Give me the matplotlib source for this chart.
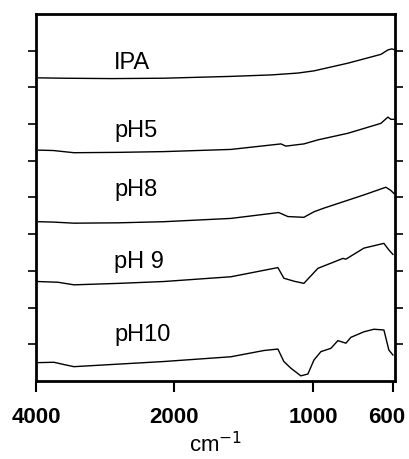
import numpy as np
import matplotlib.pyplot as plt
import matplotlib.transforms as mtransforms


# wavenumbers (cm-1) and stacked trace heights
ipa_wn = [3960, 3600, 2900, 2150, 1590, 1300, 1110, 995, 825, 660, 625, 605, 595]
ipa_y = [8.26, 8.25, 8.24, 8.25, 8.30, 8.34, 8.39, 8.45, 8.66, 8.90, 9.02, 9.05, 9.03]

ph5_wn = [3960, 3750, 3450, 2800, 2150, 1590, 1230, 1195, 1065, 975, 825, 660, 625, 610, 595]
ph5_y = [6.29, 6.28, 6.22, 6.23, 6.25, 6.31, 6.46, 6.40, 6.46, 6.57, 6.75, 7.02, 7.19, 7.13, 7.13]

ph8_wn = [3960, 3750, 3450, 2800, 2150, 1590, 1246, 1180, 1065, 995, 945, 845, 745, 635, 610, 595]
ph8_y = [4.34, 4.33, 4.30, 4.31, 4.34, 4.43, 4.59, 4.48, 4.46, 4.61, 4.71, 4.89, 5.07, 5.28, 5.19, 5.11]

ph9_wn = [3970, 3680, 3450, 2800, 2150, 1590, 1252, 1209, 1137, 1065, 975, 910, 850, 835,
          745, 645, 620, 600]
ph9_y = [2.71, 2.69, 2.62, 2.66, 2.71, 2.84, 3.09, 2.80, 2.72, 2.66, 3.07, 3.21, 3.34, 3.32,
         3.62, 3.75, 3.57, 3.45]

ph10_wn = [3970, 3740, 3600, 3450, 2800, 2150, 1590, 1353, 1252, 1209, 1159, 1087, 1036,
           995, 960, 910, 875, 835, 810, 745, 695, 645, 620, 600]
ph10_y = [0.50, 0.51, 0.45, 0.39, 0.46, 0.53, 0.66, 0.83, 0.87, 0.53, 0.35, 0.14, 0.19,
          0.57, 0.80, 0.89, 1.10, 1.03, 1.19, 1.34, 1.41, 1.39, 0.84, 0.71]

LABELS = ["IPA", "pH5", "pH8", "pH 9", "pH10"]
LABEL_Y = [8.53, 6.68, 5.07, 3.11, 1.12]   # baselines
LABEL_WN = 2870

X_TICKS = [4000, 2000, 1000, 600]

# the instrument changes its chart scale at 2000 and 1000 cm-1
SCALE_WN = [500, 600, 1000, 2000, 4000, 4500]
SCALE_POS = [-20, 0, 80, 219, 357, 391.5]


def forward(wn):
    return np.interp(wn, SCALE_WN, SCALE_POS)


def inverse(pos):
    return np.interp(pos, SCALE_POS, SCALE_WN)


def main() -> None:
    plt.rcParams["font.family"] = ["Liberation Sans", "DejaVu Sans"]

    fig = plt.figure(figsize=(4.09, 4.6), dpi=100)
    ax = fig.add_axes([0.088, 0.1696, 0.8775, 0.7978])

    spectra = [(ipa_wn, ipa_y), (ph5_wn, ph5_y), (ph8_wn, ph8_y),
               (ph9_wn, ph9_y), (ph10_wn, ph10_y)]
    for wn, y in spectra:
        ax.plot(wn, y, color="black", lw=1.0)

    for label, ly in zip(LABELS, LABEL_Y):
        ax.text(LABEL_WN, ly, label, fontsize=17, ha="left", va="baseline")

    ax.set_xscale("function", functions=(forward, inverse))
    ax.set_xlim(4000, 590)
    ax.set_ylim(0, 10)

    ax.set_xticks(X_TICKS)
    ax.set_xticklabels([str(t) for t in X_TICKS], fontsize=16, fontweight="bold")
    ax.set_yticks(range(1, 10))
    ax.set_yticklabels([])
    ax.tick_params(axis="x", direction="out", length=8, width=1.5, pad=10)
    ax.tick_params(axis="y", direction="out", length=6, width=1.2,
                   left=True, right=True)
    ax.minorticks_off()

    # nudge "600" inward so it stays inside the figure
    last = ax.get_xticklabels()[-1]
    last.set_transform(last.get_transform() +
                       mtransforms.ScaledTranslation(-6 / 100, 0, fig.dpi_scale_trans))

    for side in ["left", "right", "top", "bottom"]:
        ax.spines[side].set_linewidth(2.0)

    ax.set_xlabel("cm$^{-1}$", fontsize=16, labelpad=3)

    fig.savefig("out.png", dpi=100)
    plt.close(fig)


if __name__ == "__main__":
    main()
